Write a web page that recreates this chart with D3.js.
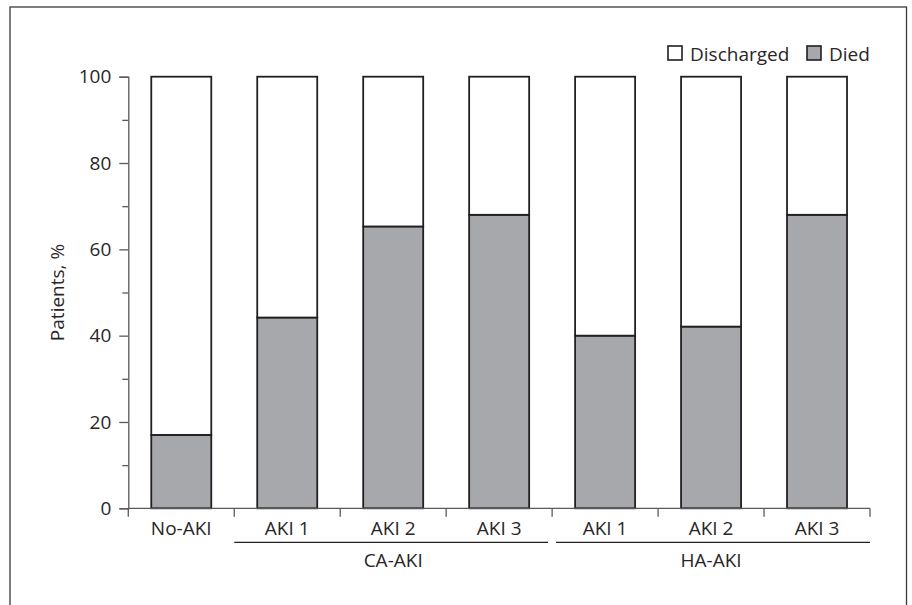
<!DOCTYPE html>
<html>
<head>
<meta charset="utf-8">
<script src="https://cdn.jsdelivr.net/npm/d3@7"></script>
<style>
  html, body { margin: 0; padding: 0; background: #fff; }
  svg text { font-family: "Open Sans", "Noto Sans", sans-serif; fill: #2a2627; }
</style>
</head>
<body>
<svg id="chart" width="912" height="605"></svg>
<script>
// ---- data ----
const categoryIds = ["No-AKI", "CA-AKI 1", "CA-AKI 2", "CA-AKI 3", "HA-AKI 1", "HA-AKI 2", "HA-AKI 3"];
const categoryLabels = ["No-AKI", "AKI 1", "AKI 2", "AKI 3", "AKI 1", "AKI 2", "AKI 3"];
const died = [17, 44.2, 65.3, 68, 40, 42.1, 68];
const discharged = [83, 55.8, 34.7, 32, 60, 57.9, 32];
const groupNames = ["CA-AKI", "HA-AKI"];
const groupMembers = [["CA-AKI 1", "CA-AKI 3"], ["HA-AKI 1", "HA-AKI 3"]];
const yMajorTicks = [0, 20, 40, 60, 80, 100];
const yMinorTicks = [10, 30, 50, 70, 90];
const seriesNames = ["Discharged", "Died"];
const seriesColors = ["#ffffff", "#a7a8ab"];

// ---- layout ----
const svg = d3.select("#chart");
const x0 = 128.3, x1 = 870, yTop = 76.7, yBottom = 508.3;
const barW = 60;
const stroke = "#231f20";
const axisColor = "#5a5a5a";
const fs = 19;

// frame
svg.append("rect").attr("x", 10).attr("y", 7).attr("width", 896.5).attr("height", 620)
  .attr("fill", "none").attr("stroke", "#3a3a3a").attr("stroke-width", 1.3);

const x = d3.scaleBand().domain(categoryIds).range([x0, x1]).padding(0);
const y = d3.scaleLinear().domain([0, 100]).range([yBottom, yTop]);

// stacked data
const rows = categoryIds.map((id, i) => ({ id, Died: died[i], Discharged: discharged[i] }));
const stack = d3.stack().keys(["Died", "Discharged"])(rows);
const color = d3.scaleOrdinal().domain(seriesNames).range(seriesColors);

svg.append("g").selectAll("g").data(stack).join("g")
  .attr("fill", d => color(d.key))
  .selectAll("rect").data(d => d).join("rect")
  .attr("x", d => x(d.data.id) + (x.bandwidth() - barW) / 2)
  .attr("width", barW)
  .attr("y", d => y(d[1]))
  .attr("height", d => y(d[0]) - y(d[1]))
  .attr("stroke", stroke).attr("stroke-width", 1.8);

// y axis
const yAxis = svg.append("g").attr("transform", `translate(${x0},0)`)
  .call(d3.axisLeft(y).tickValues(yMajorTicks).tickSize(9).tickPadding(8).tickFormat(d3.format("d")));
yAxis.select(".domain").attr("stroke", axisColor).attr("stroke-width", 1.3);
yAxis.selectAll(".tick line").attr("stroke", axisColor).attr("stroke-width", 1.3);
yAxis.selectAll(".tick text").attr("font-size", fs).attr("font-family", "Open Sans").attr("fill", "#2a2627");
const yMinor = svg.append("g").attr("transform", `translate(${x0},0)`)
  .call(d3.axisLeft(y).tickValues(yMinorTicks).tickSize(6).tickFormat(""));
yMinor.select(".domain").remove();
yMinor.selectAll(".tick line").attr("stroke", axisColor).attr("stroke-width", 1.3);

// x axis (boundary ticks)
svg.append("line").attr("x1", x0).attr("x2", x1).attr("y1", yBottom).attr("y2", yBottom)
  .attr("stroke", axisColor).attr("stroke-width", 1.3);
const boundaries = categoryIds.map(id => x(id)).concat([x1]);
svg.append("g").selectAll("line").data(boundaries).join("line")
  .attr("x1", d => d).attr("x2", d => d).attr("y1", yBottom).attr("y2", yBottom + 8.5)
  .attr("stroke", axisColor).attr("stroke-width", 1.3);

// category labels
svg.append("g").selectAll("text").data(categoryIds).join("text")
  .attr("x", d => x(d) + x.bandwidth() / 2)
  .attr("y", 535)
  .attr("text-anchor", "middle").attr("font-size", fs)
  .text((d, i) => categoryLabels[i]);

// group lines and labels
groupNames.forEach((g, gi) => {
  const a = x(groupMembers[gi][0]);
  const b = x(groupMembers[gi][1]) + x.bandwidth();
  const la = gi === 0 ? a : a + 4;
  const lb = gi === 0 ? b - 4 : b;
  svg.append("line").attr("x1", la).attr("x2", lb).attr("y1", 542.3).attr("y2", 542.3)
    .attr("stroke", stroke).attr("stroke-width", 1.3);
  svg.append("text").attr("x", (a + b) / 2).attr("y", 567)
    .attr("text-anchor", "middle").attr("font-size", fs).text(g);
});

// y label
svg.append("text")
  .attr("transform", `translate(64,${(yTop + yBottom) / 2}) rotate(-90)`)
  .attr("text-anchor", "middle").attr("font-size", fs)
  .text("Patients, %");

// legend
const legendItems = [
  { name: seriesNames[0], bx: 668 },
  { name: seriesNames[1], bx: 807 }
];
legendItems.forEach(it => {
  svg.append("rect").attr("x", it.bx).attr("y", 46).attr("width", 14).attr("height", 14)
    .attr("fill", color(it.name)).attr("stroke", stroke).attr("stroke-width", 1.6);
  svg.append("text").attr("x", it.bx + 22).attr("y", 60.5).attr("font-size", fs).text(it.name);
});
</script>
</body>
</html>
